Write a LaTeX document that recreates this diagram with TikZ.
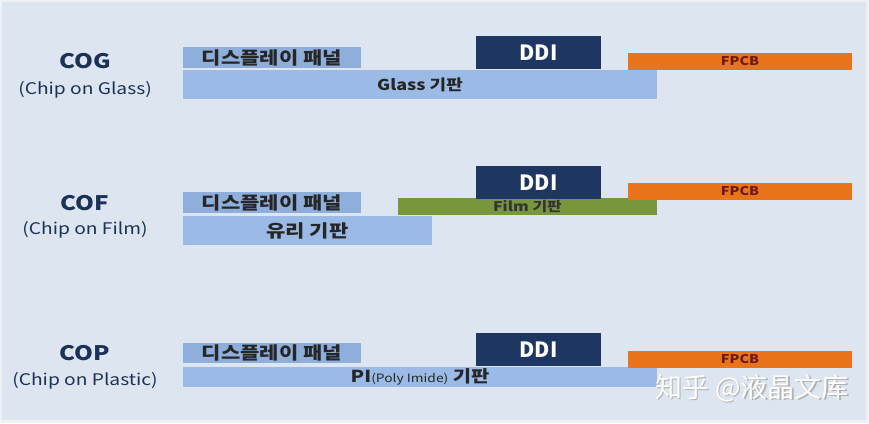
\documentclass[tikz,border=0pt]{standalone}
\usepackage{fontspec}
\setmainfont[FakeStretch=1.2]{Noto Sans CJK KR}
\newfontfamily\droitfont{Noto Sans CJK KR}
\newfontfamily\cnfont{Noto Sans CJK SC}
\usetikzlibrary{positioning}

\definecolor{fond}{HTML}{DCE5F0}
\definecolor{cadre}{HTML}{EEF2F7}
\definecolor{panneau}{HTML}{8EAFDC}
\definecolor{verre}{HTML}{9BBBE6}
\definecolor{puce}{HTML}{1E3662}
\definecolor{fpcb}{HTML}{E9741C}
\definecolor{film}{HTML}{78963B}
\definecolor{rougefonce}{HTML}{6E1A0A}

\tikzset{
  couche/.style={anchor=north west, inner sep=0pt, outer sep=0pt, text=black!85},
  titre/.style={anchor=base, font=\bfseries\fontsize{20}{22}\selectfont, text=puce!90!black},
  soustitre/.style={anchor=base, font=\fontsize{16}{18}\selectfont, text=puce!90!black},
  etiquette/.style={font=\bfseries\fontsize{17.5}{19}\selectfont},
  ddi/.style={couche, fill=puce, minimum width=125pt, minimum height=33pt,
    text=white, font=\droitfont\bfseries\fontsize{21}{23}\selectfont},
  flex/.style={couche, fill=fpcb, minimum width=224pt, minimum height=17pt,
    text=rougefonce, font=\bfseries\fontsize{12}{13}\selectfont},
}

\begin{document}
\begin{tikzpicture}[x=1pt, y=-1pt]
  % Fond
  \fill[cadre] (0,0) rectangle (869,423);
  \fill[fond] (2,2) rectangle (866,420);
  \useasboundingbox (0,0) rectangle (869,423);

  % COG
  \node[titre] (cog) at (85,68) {COG};
  \node[soustitre] (cogsous) at (85,94) {(Chip on Glass)};
  \node[couche, fill=verre, minimum width=474pt, minimum height=29pt,
        etiquette, font=\bfseries\fontsize{15}{17}\selectfont] (cogverre) at (183,70) {Glass 기판};
  \node[couche, fill=panneau, minimum width=178pt, minimum height=21pt,
        etiquette] (cogpanneau) at (183,47) {디스플레이 패널};
  \node[ddi] (cogddi) at (476,36) {DDI};
  \node[flex] (cogfpcb) at (628,53) {FPCB};

  % COF
  \node[titre] (cof) at (85,210) {COF};
  \node[soustitre] (cofsous) at (85,234) {(Chip on Film)};
  \node[couche, fill=verre, minimum width=249pt, minimum height=29pt,
        etiquette] (cofverre) at (183,216) {유리 기판};
  \node[couche, fill=panneau, minimum width=178pt, minimum height=21pt,
        etiquette] (cofpanneau) at (183,192) {디스플레이 패널};
  \node[couche, fill=film, minimum width=259pt, minimum height=17pt,
        font=\bfseries\fontsize{13.3}{14}\selectfont, text=black!80] (coffilm) at (398,198) {Film 기판};
  \node[ddi] (cofddi) at (476,166) {DDI};
  \node[flex] (coffpcb) at (628,183) {FPCB};

  % COP
  \node[titre] (cop) at (85,360) {COP};
  \node[soustitre] (copsous) at (85,385) {(Chip on Plastic)};
  \node[couche, fill=verre, minimum width=474pt, minimum height=20pt,
        etiquette, font=\bfseries\fontsize{16.5}{18}\selectfont] (copverre) at (183,367)
        {PI{\mdseries\fontsize{11.5}{13}\selectfont(Poly Imide)} 기판};
  \node[couche, fill=panneau, minimum width=178pt, minimum height=20pt,
        etiquette] (coppanneau) at (183,343) {디스플레이 패널};
  \node[ddi] (copddi) at (476,333) {DDI};
  \node[flex] (copfpcb) at (628,351) {FPCB};

  % Filigrane
  \node[text=black!30, font=\cnfont\fontsize{27}{29}\selectfont] at (753.6,389.6) {知乎 @液晶文库};
  \node[text=white, font=\cnfont\fontsize{27}{29}\selectfont] (filigrane) at (752,388) {知乎 @液晶文库};
\end{tikzpicture}
\end{document}
